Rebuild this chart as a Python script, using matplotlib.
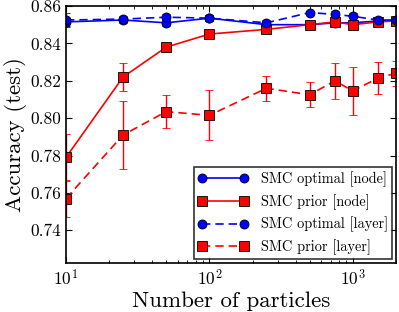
import matplotlib
matplotlib.use("Agg")
import matplotlib.pyplot as plt
from matplotlib.lines import Line2D
import numpy as np

particles = [10, 25, 50, 100, 250, 500, 750, 1000, 1500, 2000]

opt_node = [0.8515, 0.8525, 0.8510, 0.8535, 0.8500, 0.8500, 0.8510, 0.8510, 0.8520, 0.8520]
opt_node_err = [0.0020, 0.0015, 0.0015, 0.0015, 0.0015, 0.0012, 0.0012, 0.0012, 0.0010, 0.0010]
prior_node = [0.7790, 0.8220, 0.8380, 0.8450, 0.8475, 0.8500, 0.8515, 0.8500, 0.8515, 0.8520]
prior_node_err = [0.0125, 0.0075, 0.0008, 0.0010, 0.0010, 0.0010, 0.0015, 0.0012, 0.0010, 0.0008]
opt_layer = [0.8525, 0.8530, 0.8540, 0.8535, 0.8510, 0.8565, 0.8555, 0.8545, 0.8525, 0.8525]
opt_layer_err = [0.0040, 0.0015, 0.0015, 0.0015, 0.0015, 0.0010, 0.0020, 0.0020, 0.0012, 0.0010]
prior_layer = [0.7570, 0.7910, 0.8035, 0.8015, 0.8160, 0.8125, 0.8200, 0.8145, 0.8215, 0.8240]
prior_layer_err = [0.0100, 0.0180, 0.0088, 0.0134, 0.0068, 0.0066, 0.0097, 0.0130, 0.0088, 0.0068]

labels = ["SMC optimal [node]", "SMC prior [node]", "SMC optimal [layer]", "SMC prior [layer]"]

plt.rcParams.update({
    "font.family": "cmr10",
    "mathtext.fontset": "cm",
    "axes.formatter.use_mathtext": True,
    "xtick.direction": "in",
    "ytick.direction": "in",
    "xtick.top": True,
    "ytick.right": True,
    "xtick.minor.top": True,
    "xtick.major.size": 4,
    "ytick.major.size": 4,
    "xtick.minor.size": 2,
    "xtick.labelsize": 12.5,
    "ytick.labelsize": 12.5,
})

fig = plt.figure(figsize=(3.99, 3.12), dpi=100)
ax = fig.add_axes([66/399, 1-263/312, (396-66)/399, (263-6)/312])

common = dict(markeredgecolor="k", markeredgewidth=0.6, capsize=3, elinewidth=1.0, linewidth=1.2, markersize=6.5)
styles = [
    dict(color="#0000ff", marker="o", linestyle="-"),
    dict(color="#ff0000", marker="s", linestyle="-"),
    dict(color="#0000ff", marker="o", linestyle="--", dashes=(5, 3)),
    dict(color="#ff0000", marker="s", linestyle="--", dashes=(5, 3)),
]
series = [(opt_node, opt_node_err), (prior_node, prior_node_err),
          (opt_layer, opt_layer_err), (prior_layer, prior_layer_err)]
handles = []
for (vals, errs), st, lab in zip(series, styles, labels):
    ax.errorbar(particles, vals, yerr=errs, **st, **common)
    handles.append(Line2D([], [], markeredgecolor="k", markeredgewidth=0.6,
                          linewidth=1.2, markersize=6.5, label=lab, **st))

ax.set_xscale("log")
ax.set_xlim(10, 2000)
ax.set_ylim(0.7225, 0.86)
ax.set_yticks([0.74, 0.76, 0.78, 0.80, 0.82, 0.84, 0.86])
ax.yaxis.set_major_formatter(matplotlib.ticker.FormatStrFormatter("%.2f"))
for s in ax.spines.values():
    s.set_linewidth(1.2)

ax.set_xlabel("Number of particles", fontsize=16.5, labelpad=2)
ax.set_ylabel("Accuracy (test)", fontsize=16.5, labelpad=2)

leg = ax.legend(handles=handles, loc="lower right", fontsize=10.3, frameon=True, fancybox=False,
                edgecolor="k", borderaxespad=0.25, handlelength=3.5, numpoints=2,
                labelspacing=0.5, borderpad=0.3, handletextpad=0.9)
leg.get_frame().set_linewidth(1.2)

fig.savefig("out.png", dpi=100)
